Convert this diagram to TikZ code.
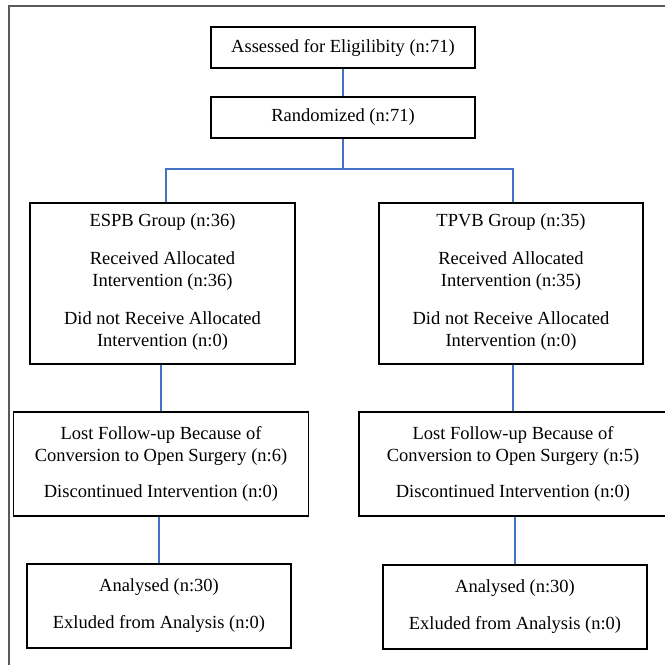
\documentclass[tikz,border=0pt]{standalone}
\usepackage{fontspec}
\setmainfont{Liberation Serif}
\definecolor{linkblue}{HTML}{4472C4}
\definecolor{framegray}{HTML}{5A5A5A}
\begin{document}
\begin{tikzpicture}[x=1pt,y=-1pt,
  box/.style={draw=black,line width=1.6pt,align=center,inner sep=0pt,
    font=\fontsize{18.5}{22}\selectfont},
  link/.style={draw=linkblue,line width=1.8pt}]
\useasboundingbox (0,0) rectangle (665,665);
\fill[white] (0,0) rectangle (665,665);
\draw[framegray,line width=1.6pt] (9,665) -- (9,6) -- (665,6);

\node[box,minimum width=264pt,minimum height=41pt] (b1) at (343,47.5)
  {Assessed for Eligilibity (n:71)};
\node[box,minimum width=264pt,minimum height=41pt] (b2) at (343,117.5)
  {Randomized (n:71)};

\node[box,minimum width=265pt,minimum height=161pt] (b3) at (162.5,283.5)
  {ESPB Group (n:36)\\[16pt] Received Allocated\\ Intervention (n:36)\\[16pt]
   Did not Receive Allocated\\ Intervention (n:0)\rule[-6pt]{0pt}{0pt}};
\node[box,minimum width=264pt,minimum height=161pt] (b4) at (511,283.5)
  {TPVB Group (n:35)\\[16pt] Received Allocated\\ Intervention (n:35)\\[16pt]
   Did not Receive Allocated\\ Intervention (n:0)\rule[-6pt]{0pt}{0pt}};

\node[box,minimum width=295pt,minimum height=104pt] (b5) at (161,464)
  {Lost Follow-up Because of\\ Conversion to Open Surgery (n:6)\\[14pt]
   Discontinued Intervention (n:0)};
\node[box,minimum width=308pt,minimum height=104pt] (b6) at (513,464)
  {Lost Follow-up Because of\\ Conversion to Open Surgery (n:5)\\[14pt]
   Discontinued Intervention (n:0)};

\node[box,minimum width=264pt,minimum height=84pt] (b7) at (159,606)
  {Analysed (n:30)\\[15pt] Exluded from Analysis (n:0)\rule[-2pt]{0pt}{0pt}};
\node[box,minimum width=264pt,minimum height=84pt] (b8) at (515,607)
  {Analysed (n:30)\\[15pt] Exluded from Analysis (n:0)\rule[-2pt]{0pt}{0pt}};

\coordinate (jl) at (166,169);
\coordinate (jr) at (513,169);
\coordinate (c35) at (161,0);

\draw[link] (b1.south) -- (b2.north);
\draw[link] (b2.south) -- (b2.south |- jl);
\draw[link] (jl |- b3.north) -- (jl) -- (jr) -- (jr |- b4.north);
\draw[link] (c35 |- b3.south) -- (c35 |- b5.north);
\draw[link] (b6.north |- b4.south) -- (b6.north);
\draw[link] (b7.north |- b5.south) -- (b7.north);
\draw[link] (b8.north |- b6.south) -- (b8.north);
\end{tikzpicture}
\end{document}
